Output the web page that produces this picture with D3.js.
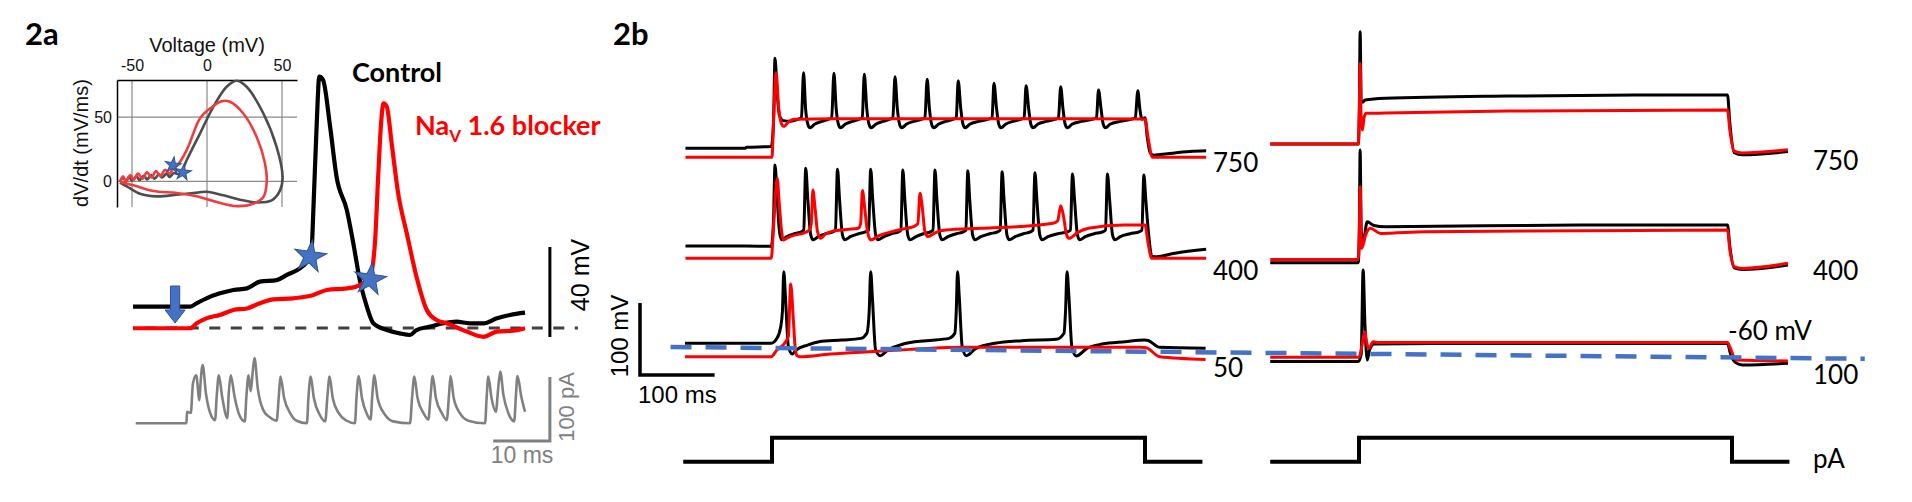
<!DOCTYPE html>
<html><head><meta charset="utf-8">
<script src="https://cdn.jsdelivr.net/npm/d3@7"></script>
<style>
html,body{margin:0;padding:0;background:#fff;}
svg{display:block;}
</style></head><body>
<svg id="c" width="1912" height="502"></svg>
<script>
// ---------------- DATA ----------------
// Panel 2a : single action potential (time ms, mV)
const ap2aControl = [[0,-50.5],[10.6,-50.5],[11.8,-49],[13.6,-46.8],[16.1,-44.6],[18.6,-43.1],[21.1,-42.4],[23.5,-39.4],[26.6,-38.7],[28.5,-36.4],[30.9,-33.5],[32.2,-30.5],[33.1,-23.9],[33.4,-7.6],[34,29.5],[34.5,51.7],[35.2,50.2],[36.5,29.5],[37.7,7.2],[39.6,-7.6],[40.8,-22.4],[42,-38.7],[43.3,-50.5],[44.5,-57.9],[47,-60.9],[49.4,-62.4],[51.3,-63.1],[52.5,-60.9],[55,-59.4],[57.5,-57.9],[59.9,-57.2],[62.4,-57.9],[64.9,-57.9],[67.4,-55.7],[69.8,-54.2],[72.6,-53.2]];
const ap2aBlocker = [[0,-60.1],[10.6,-60.1],[11.8,-57.9],[13.6,-55.7],[16.1,-54.2],[18.6,-52],[21.1,-51.3],[23.5,-49],[26,-47.3],[29.7,-46.8],[33.4,-45.3],[35.9,-43.1],[39.6,-42.4],[42,-40.9],[43.9,-37.2],[44.8,-22.4],[45.4,7.2],[45.9,29.5],[46.4,39.9],[47,38.4],[47.9,22.1],[49.1,-0.1],[50.7,-17.9],[52.5,-37.2],[54.4,-52],[56.2,-56.4],[58.1,-57.9],[61.8,-61.6],[64.9,-63.9],[67.4,-61.6],[70.4,-61.2],[72.6,-60.1]];
// injected current (time ms, pA)
const current2a = [[0.5,0],[9.9,0],[10,18],[10.7,16],[11.1,62],[11.7,75],[12.3,36],[12.5,62],[12.9,91],[13.5,47],[14.3,16],[15.2,5],[15.5,42],[15.9,75],[16.5,42],[17.5,8],[17.7,42],[18.1,75],[18.8,42],[19.7,13],[20.7,3],[21,42],[21.4,75],[21.8,50],[22.2,83],[22.5,102],[23.1,55],[24.1,21],[25.4,9],[26.6,4],[27,42],[27.3,73],[28,39],[29.1,16],[30.3,4],[32.2,0],[32.5,42],[32.9,73],[33.5,39],[34.6,13],[35.6,3],[36,42],[36.4,73],[37,39],[38.1,16],[39.6,4],[41.1,0],[41.4,42],[41.8,74],[42.4,39],[43.4,13],[44,6],[44.3,42],[44.7,75],[45.3,39],[46.7,13],[48.2,3],[51.3,0],[51.7,42],[52.1,73],[52.7,39],[53.8,16],[54.7,6],[55.1,42],[55.5,74],[56.1,39],[57.2,16],[58.1,5],[58.5,42],[58.8,74],[59.4,39],[60.6,15],[62.1,4],[65.2,0],[65.5,42],[65.8,73],[66.4,39],[67.2,18],[67.6,52],[68,81],[68.6,44],[69.5,16],[70.6,3],[70.9,42],[71.2,74],[71.9,42],[72.6,18]];
// threshold markers (time ms, mV)
const starControl = [32.8,-28.3];
const starBlocker = [43.9,-38.4];
const arrowTime = 7.8;
// Phase plot (mV, mV/ms)
const phaseControl = [[-58,-0.5],[-56,3],[-54,0],[-52,3.5],[-50,0.5],[-47,4],[-45,1],[-42,4.5],[-40,1.5],[-37,5],[-35,2],[-32,5.5],[-30,3],[-27,6],[-25,3.5],[-22,6.5],[-19,5.5],[-17,7.3],[-13.6,16.4],[-4.7,37.2],[4.2,58],[13.1,73.7],[19.8,78.4],[26.4,73.7],[37.6,52.9],[46.4,26.8],[50.4,3.4],[48.7,-7],[43.1,-14.8],[33.1,-16.4],[22,-14.3],[10.9,-10.9],[-0.2,-8.1],[-9.1,-9.1],[-20.2,-10.4],[-33.6,-11.7],[-44.7,-9.6],[-53.5,-3.9],[-58,-1]];
const phaseBlocker = [[-58,-0.5],[-56,4],[-54,0],[-51,5],[-49,1],[-46,6],[-43,2],[-40,7],[-37,3],[-34,8],[-31,4],[-28,9],[-25,6],[-22,11],[-20.2,12],[-13.6,24.2],[-4.7,49],[2,56.8],[9.8,62.5],[15.3,62],[24.2,52.9],[33.1,34.6],[38.7,13.8],[39.8,-0.5],[37.6,-12.2],[30.9,-17.4],[19.8,-19.3],[6.4,-16.1],[-6.9,-11.7],[-20.2,-9.1],[-35.8,-7.6],[-49.1,-3.1],[-58,-0.5]];
const phaseStars = [[-22.7,12.5],[-16,7]];
const phaseTicksV = [-50,0,50];
const phaseTicksD = [0,50];

// Panel 2b left (time ms from step onset, mV)
const L750control = [[-116,-55.5],[-36,-55.5],[-34,-54],[-1,-53],[2,-20],[4,69.5],[7,20],[10,-10],[15,-17],[25,-18],[35,-15],[39.5,-13],[42.3,49.6],[45,0],[48,-22],[51,-27],[57,-22],[67,-18],[76,-15],[80,-13],[83,48.7],[86,0],[89,-22],[92,-27],[98,-22],[108,-18],[117,-15],[121,-13],[123.7,47.3],[127,0],[130,-22],[133,-27],[139,-22],[149,-18],[158,-15],[162,-13],[164.9,44.1],[168,0],[171,-22],[174,-27],[180,-22],[190,-18],[201,-15],[205,-13],[208,40.4],[211,0],[214,-22],[217,-27],[223,-22],[233,-18],[243,-15],[247,-13],[249.6,38.5],[253,0],[256,-22],[259,-27],[265,-22],[277,-18],[290,-15],[295,-13],[297.5,34.8],[301,0],[304,-22],[307,-27],[313,-22],[323,-18],[334,-15],[338,-13],[340.6,31.6],[344,0],[347,-22],[350,-27],[356,-22],[368,-18],[380,-15],[384,-13],[387,30.2],[390,0],[393,-22],[396,-27],[402,-22],[415,-18],[430,-15],[435,-13],[437.7,25.6],[441,0],[444,-22],[447,-27],[453,-22],[467,-18],[482,-15],[487,-13],[490.4,24.6],[493,0],[496,-15],[500,-13],[503,-40],[507,-62],[512,-65],[530,-63],[560,-60],[582,-59]];
const L750blocker = [[-116,-68],[0,-68],[2,-20],[5.5,49.6],[9,0],[13,-22],[16,-25],[22,-19],[30,-15],[100,-14.5],[300,-14.5],[500,-14.7],[504,-40],[510,-68],[582,-68]];
const L400control = [[-116,-55],[-35,-55],[-1,-55.5],[2,-20],[4,57.5],[7,10],[10,-35],[13,-46.5],[20,-42],[30,-38],[40,-35],[42.5,-33],[45.2,52.9],[48,10],[52,-40],[55,-46.5],[62,-42],[72,-38],[82,-35],[85,-33],[87.8,51.5],[90.5,10],[94.5,-40],[97.5,-46.5],[105,-42],[116,-38],[126,-35],[129.5,-33],[132.3,51.5],[135,10],[139,-40],[142,-46.5],[150,-42],[160,-38],[170,-35],[172.7,-33],[175.4,50.5],[178,10],[182,-40],[185,-46.5],[193,-42],[203,-38],[213,-35],[215.8,-33],[218.5,50.5],[221,10],[225,-40],[228,-46.5],[236,-42],[247,-38],[257,-35],[259.8,-33],[262.5,49.6],[265,10],[269,-40],[272,-46.5],[280,-42],[292,-38],[303,-35],[305.8,-33],[308.5,48.2],[311,10],[315,-40],[318,-46.5],[326,-42],[337,-38],[347,-35],[349.8,-33],[352.5,46.8],[355,10],[359,-40],[362,-46.5],[370,-42],[383,-38],[397,-35],[400,-33],[402.8,45],[405.5,10],[409.5,-40],[412.5,-46.5],[420,-42],[432,-38],[444,-35],[447,-33],[449.7,45],[452.5,10],[456.5,-40],[459.5,-46.5],[467,-42],[480,-38],[493,-35],[495.8,-33],[498.5,43.6],[501,10],[505,-40],[509,-69],[515,-70],[540,-65],[582,-59.6]];
const L400blocker = [[-116,-72],[-1,-72],[2,-30],[6.9,39],[10,0],[13,-35],[15,-46.7],[20,-44],[30,-40],[41.4,-37.4],[50,-33],[52.5,-25],[54.8,22.8],[57.5,0],[61,-35],[65.3,-44.4],[72,-38],[79.7,-35.1],[100,-32],[115.6,-30.5],[118.8,-24],[121.3,21.9],[124,0],[128,-35],[132.3,-46.7],[145,-40],[161,-35.1],[180,-30.5],[189.8,-28.2],[195.5,-24],[198.4,18.1],[201.3,0],[205,-35],[208.9,-42],[220,-36],[232.9,-32.8],[280.7,-30.5],[328.6,-28.2],[376.5,-23.5],[383,-20],[387,1],[391,-15],[394.5,-38],[398,-44.4],[410,-36],[424.3,-30.5],[472.2,-25.8],[500,-25.8],[504,-50],[509,-72],[582,-72]];
const L50control = [[-116.6,-54.9],[-1.1,-54.9],[6.6,-48],[11.7,-31.8],[14,-10],[15.8,44.6],[18,10],[22,-59.6],[27.1,-69.8],[32.2,-64.2],[47.6,-57.3],[63,-52.6],[93.8,-50.3],[119.4,-48],[127.1,-41],[130.3,-10],[132.3,44.6],[134.5,10],[138.9,-64.2],[145.1,-72.1],[155.4,-64.2],[175.9,-55.9],[206.7,-51.2],[237.4,-48],[245.1,-41],[247,-10],[248.7,44.6],[251,10],[255,-60],[260.5,-72.1],[273.4,-61.9],[299,-54.9],[334.9,-51.2],[381.1,-49.4],[391.4,-41],[393.5,-10],[395.5,44.6],[398,10],[402,-60],[407.8,-72.5],[422.2,-61.9],[442.7,-55.9],[473.5,-52.6],[499.2,-50.3],[504.3,-51],[519.6,-60.5],[581.2,-61.9]];
const L50blocker = [[-116.6,-73.5],[-1.1,-73.5],[6.6,-64.2],[16.8,-54.9],[22,-45],[25,27.5],[28.5,-20],[31,-60],[33.5,-72],[37.3,-73.5],[78.4,-69.8],[129.7,-66.5],[186.1,-63.3],[258,-60.5],[360.6,-60.5],[494,-60.5],[501.7,-61],[519.6,-73.5],[581.2,-77.2]];
// Panel 2b right
const R750control = [[-119,-70],[-1,-70],[0.5,-20],[1.5,86],[3,-10],[5,-12],[8,-8.9],[35,-6.5],[200,-3.3],[370,-2],[494,-2],[497,-40],[503,-82],[514,-85],[575,-80.5]];
const R750blocker = [[-119,-70],[-1,-70],[0.5,-20],[1.5,42],[3,-40],[4.5,-50.6],[7,-32],[10,-27.4],[35,-27],[200,-24.2],[494,-22.8],[497,-50],[503,-80],[514,-82.5],[575,-78]];
const R400control = [[-119,-73.7],[-1,-73.7],[0.5,-20],[1.5,82.8],[3,-30],[5.5,-45],[11,-16.8],[20,-22],[35,-23.7],[300,-21.4],[494,-21.4],[497,-50],[503,-81],[514,-83],[575,-77]];
const R400blocker = [[-119,-69.1],[-1,-69.1],[0.5,-30],[1.5,31.8],[3.5,-53.8],[9,-35],[15,-26],[29,-33],[90,-30.7],[300,-29.5],[494,-28.3],[497,-55],[503,-79.3],[514,-81.6],[575,-74.6]];
const R100control = [[-119,-70.6],[-1,-70.6],[3,-60],[5.5,56.7],[8,-20],[11,-68.3],[14,-55],[20,-46],[100,-45.5],[494,-45.5],[498,-60],[505,-72],[514,-75.3],[575,-72.9]];
const R100blocker = [[-119,-64.6],[0,-64.6],[4,-48],[7.8,-29],[10.5,-45],[13.3,-52.1],[19,-43],[26,-44.2],[494,-44.2],[497,-50],[505.5,-68.3],[575,-69.7]];
// current step (time ms, on/off)
const stepTimes  = [-119, 0, 0, 500, 500, 577];
const stepLevels = [0, 0, 1, 1, 0, 0];
const leftLabels  = ["750", "400", "50"];
const rightLabels = ["750", "400", "100"];

// ---------------- DRAW ----------------
const svg = d3.select("#c");
const RED = "#ff0000", BLUE = "#4472C4", BLUE_D = "#2F528F";
const ARIAL = "'Liberation Sans', Arial, sans-serif";
const LATO = "Lato, 'Liberation Sans', sans-serif";

function txt(g, x, y, s, o) {
  o = o || {};
  const t = g.append("text").attr("x", x).attr("y", y).text(s)
    .attr("font-family", o.ff || LATO).attr("font-size", o.fs || 26)
    .attr("fill", o.fill || "#000").attr("font-weight", o.fw || "normal")
    .attr("text-anchor", o.anchor || "start");
  if (o.rot) t.attr("x", null).attr("y", null).attr("transform", `translate(${x},${y}) rotate(${o.rot})`);
  return t;
}
function star(g, x, y, r) {
  const size = r * r / 0.8908;
  g.append("path").attr("d", d3.symbol(d3.symbolStar, size)())
    .attr("transform", `translate(${x},${y}) rotate(8)`)
    .attr("fill", BLUE).attr("stroke", BLUE_D).attr("stroke-width", 1);
}

// ---- Panel labels
txt(svg, 25, 45, "2a", {fs: 31, fw: "bold"});
txt(svg, 613, 45, "2b", {fs: 31, fw: "bold"});

// ---- 2a scales
const x2a = d3.scaleLinear().domain([0, 10]).range([133, 187]);
const y2a = d3.scaleLinear().domain([-60, -20]).range([328, 238]);
const yI  = d3.scaleLinear().domain([0, 100]).range([423.3, 359.3]);

// resting reference dashed line
svg.append("line").attr("x1", x2a(0)).attr("x2", x2a(82.4)).attr("y1", y2a(-60)).attr("y2", y2a(-60))
  .attr("stroke", "#404040").attr("stroke-width", 3).attr("stroke-dasharray", "11,10.5").attr("stroke-dashoffset", 9.7);

const l2a = d3.line().x(d => x2a(d[0])).y(d => y2a(d[1])).curve(d3.curveMonotoneX);
svg.append("path").attr("d", l2a(ap2aControl)).attr("fill", "none").attr("stroke", "#000").attr("stroke-width", 4.2).attr("stroke-linejoin", "round");
svg.append("path").attr("d", l2a(ap2aBlocker)).attr("fill", "none").attr("stroke", RED).attr("stroke-width", 4.2).attr("stroke-linejoin", "round");
star(svg, x2a(starControl[0]), y2a(starControl[1]), 17);
star(svg, x2a(starBlocker[0]), y2a(starBlocker[1]), 17);

// blue arrow
{
  const ax = x2a(arrowTime), top = 286, hb = 310, tip = 323;
  const p = [[ax-4.6,top],[ax+4.6,top],[ax+4.6,hb],[ax+10,hb],[ax,tip],[ax-10,hb],[ax-4.6,hb]];
  svg.append("path").attr("d", "M" + p.join("L") + "Z").attr("fill", BLUE).attr("stroke", BLUE_D).attr("stroke-width", 1);
}

// current trace
const lI = d3.line().x(d => x2a(d[0])).y(d => yI(d[1])).curve(d3.curveMonotoneX);
svg.append("path").attr("d", lI(current2a)).attr("fill", "none").attr("stroke", "#808080").attr("stroke-width", 2.6).attr("stroke-linejoin", "round");

// 2a scale bars
{
  const bx = x2a(77.2);
  svg.append("line").attr("x1", bx).attr("x2", bx).attr("y1", y2a(-64)).attr("y2", y2a(-24))
    .attr("stroke", "#000").attr("stroke-width", 3);
  const g = svg.append("g").attr("stroke", "#808080").attr("stroke-width", 3).attr("fill", "none");
  g.append("path").attr("d", `M${x2a(66.7)},${yI(-27.6)}H${bx}V${yI(72.4)}`);
  txt(svg, 589, 275, "40 mV", {ff: ARIAL, fs: 25, anchor: "middle", rot: -90});
  txt(svg, 574, 407, "100 pA", {ff: ARIAL, fs: 22, anchor: "middle", rot: -90, fill: "#808080"});
  txt(svg, 522, 463, "10 ms", {ff: ARIAL, fs: 23, anchor: "middle", fill: "#808080"});
}

// legend texts
txt(svg, 352, 82, "Control", {fs: 27, fw: "bold"});
{
  const t = txt(svg, 415, 135, "Na", {fs: 27, fw: "bold", fill: RED});
  t.append("tspan").attr("font-size", 17).attr("dy", 7).text("V");
  t.append("tspan").attr("dy", -7).text(" 1.6 blocker");
}

// ---- Inset phase plot
const xPh = d3.scaleLinear().domain([-60, 60]).range([117, 297]);
const yPh = d3.scaleLinear().domain([-20, 79]).range([207, 80]);
const grid = svg.append("g").attr("stroke", "#8a8a8a").attr("stroke-width", 1.2);
phaseTicksV.forEach(v => grid.append("line").attr("x1", xPh(v)).attr("x2", xPh(v)).attr("y1", yPh(79)).attr("y2", yPh(-20)));
phaseTicksD.forEach(v => grid.append("line").attr("y1", yPh(v)).attr("y2", yPh(v)).attr("x1", xPh(-60)).attr("x2", xPh(60)));
const axT = svg.append("g").attr("transform", `translate(0,${yPh(79)})`)
  .call(d3.axisTop(xPh).tickValues(phaseTicksV).tickSize(0).tickSizeOuter(0).tickPadding(9));
const axL = svg.append("g").attr("transform", `translate(${xPh(-60)},0)`)
  .call(d3.axisLeft(yPh).tickValues(phaseTicksD).tickSize(0).tickSizeOuter(0).tickPadding(5));
[axT, axL].forEach(a => {
  a.attr("font-family", ARIAL).attr("font-size", 16);
  a.select(".domain").attr("stroke", "#000").attr("stroke-width", 1.5);
  a.selectAll("text").attr("fill", "#111");
});
axT.selectAll("text").text(d => d < 0 ? "-" + Math.abs(d) : d);
txt(svg, 207, 52, "Voltage (mV)", {ff: ARIAL, fs: 20, anchor: "middle", fill: "#111"});
txt(svg, 88, 143, "dV/dt (mV/ms)", {ff: ARIAL, fs: 20, anchor: "middle", rot: -90, fill: "#111"});
const lPh = d3.line().x(d => xPh(d[0])).y(d => yPh(d[1])).curve(d3.curveCatmullRom);
svg.append("path").attr("d", lPh(phaseControl)).attr("fill", "none").attr("stroke", "#4d4d4d").attr("stroke-width", 2.6).attr("stroke-linejoin", "round");
svg.append("path").attr("d", lPh(phaseBlocker)).attr("fill", "none").attr("stroke", "#f03c3c").attr("stroke-width", 2.6).attr("stroke-linejoin", "round");
phaseStars.forEach(s => star(svg, xPh(s[0]), yPh(s[1]), 8.5));

// ---- Panel 2b
const xL = d3.scaleLinear().domain([0, 500]).range([772, 1145]);
const xR = d3.scaleLinear().domain([0, 500]).range([1359, 1732]);
const yV = d3.scaleLinear().domain([-60, 40]).range([347, 275]);
const yS = d3.scaleLinear().domain([0, 1]).range([461.7, 437.7]);
const leftOffsets  = [271.4, 135.3, 0];      // vertical stacking (mV)
const rightOffsets = [291.9, 130.8, -9.7];

function trace(xs, data, off, color) {
  const l = d3.line().x(d => xs(d[0])).y(d => yV(d[1] + off)).curve(d3.curveMonotoneX);
  svg.append("path").attr("d", l(data)).attr("fill", "none").attr("stroke", color)
    .attr("stroke-width", 3).attr("stroke-linejoin", "round");
}
const leftRows  = [[L750control, L750blocker], [L400control, L400blocker], [L50control, L50blocker]];
const rightRows = [[R750control, R750blocker], [R400control, R400blocker], [R100control, R100blocker]];
leftRows.forEach((r, i) => { trace(xL, r[0], leftOffsets[i], "#000"); trace(xL, r[1], leftOffsets[i], RED); });
rightRows.forEach((r, i) => { trace(xR, r[0], rightOffsets[i], "#000"); trace(xR, r[1], rightOffsets[i], RED); });

// -60 mV reference line across both panels
svg.append("line").attr("x1", xL(-136)).attr("x2", xR(678)).attr("y1", yV(-60)).attr("y2", yV(-60) + 11.8)
  .attr("stroke", BLUE).attr("stroke-width", 4.5).attr("stroke-dasharray", "21,14");

// current steps
const stepData = stepTimes.map((t, i) => [t, stepLevels[i]]);
[xL, xR].forEach(xs => {
  const l = d3.line().x(d => xs(d[0])).y(d => yS(d[1]));
  svg.append("path").attr("d", l(stepData)).attr("fill", "none").attr("stroke", "#000")
    .attr("stroke-width", 4).attr("stroke-linejoin", "miter");
});

// 2b scale bar
{
  const sx = 640, sy = yV(-60) + 28;
  svg.append("path").attr("d", `M${sx},${sy - (yV(-60) - yV(40))}V${sy}H${sx + (xL(100) - xL(0))}`)
    .attr("fill", "none").attr("stroke", "#000").attr("stroke-width", 3.5);
  txt(svg, 628, 336, "100 mV", {ff: ARIAL, fs: 24, anchor: "middle", rot: -90});
  txt(svg, 638, 403, "100 ms", {ff: ARIAL, fs: 24});
}

// row labels
const leftBase = [172, 280, 377], rightBase = [170, 280, 384];
leftLabels.forEach((s, i) => txt(svg, 1213, leftBase[i], s, {fs: 26}));
rightLabels.forEach((s, i) => txt(svg, 1813, rightBase[i], s, {fs: 26}));
txt(svg, 1813, 468, "pA", {fs: 26});
txt(svg, 1728, 340, "-60 mV", {fs: 26});
</script></body></html>
